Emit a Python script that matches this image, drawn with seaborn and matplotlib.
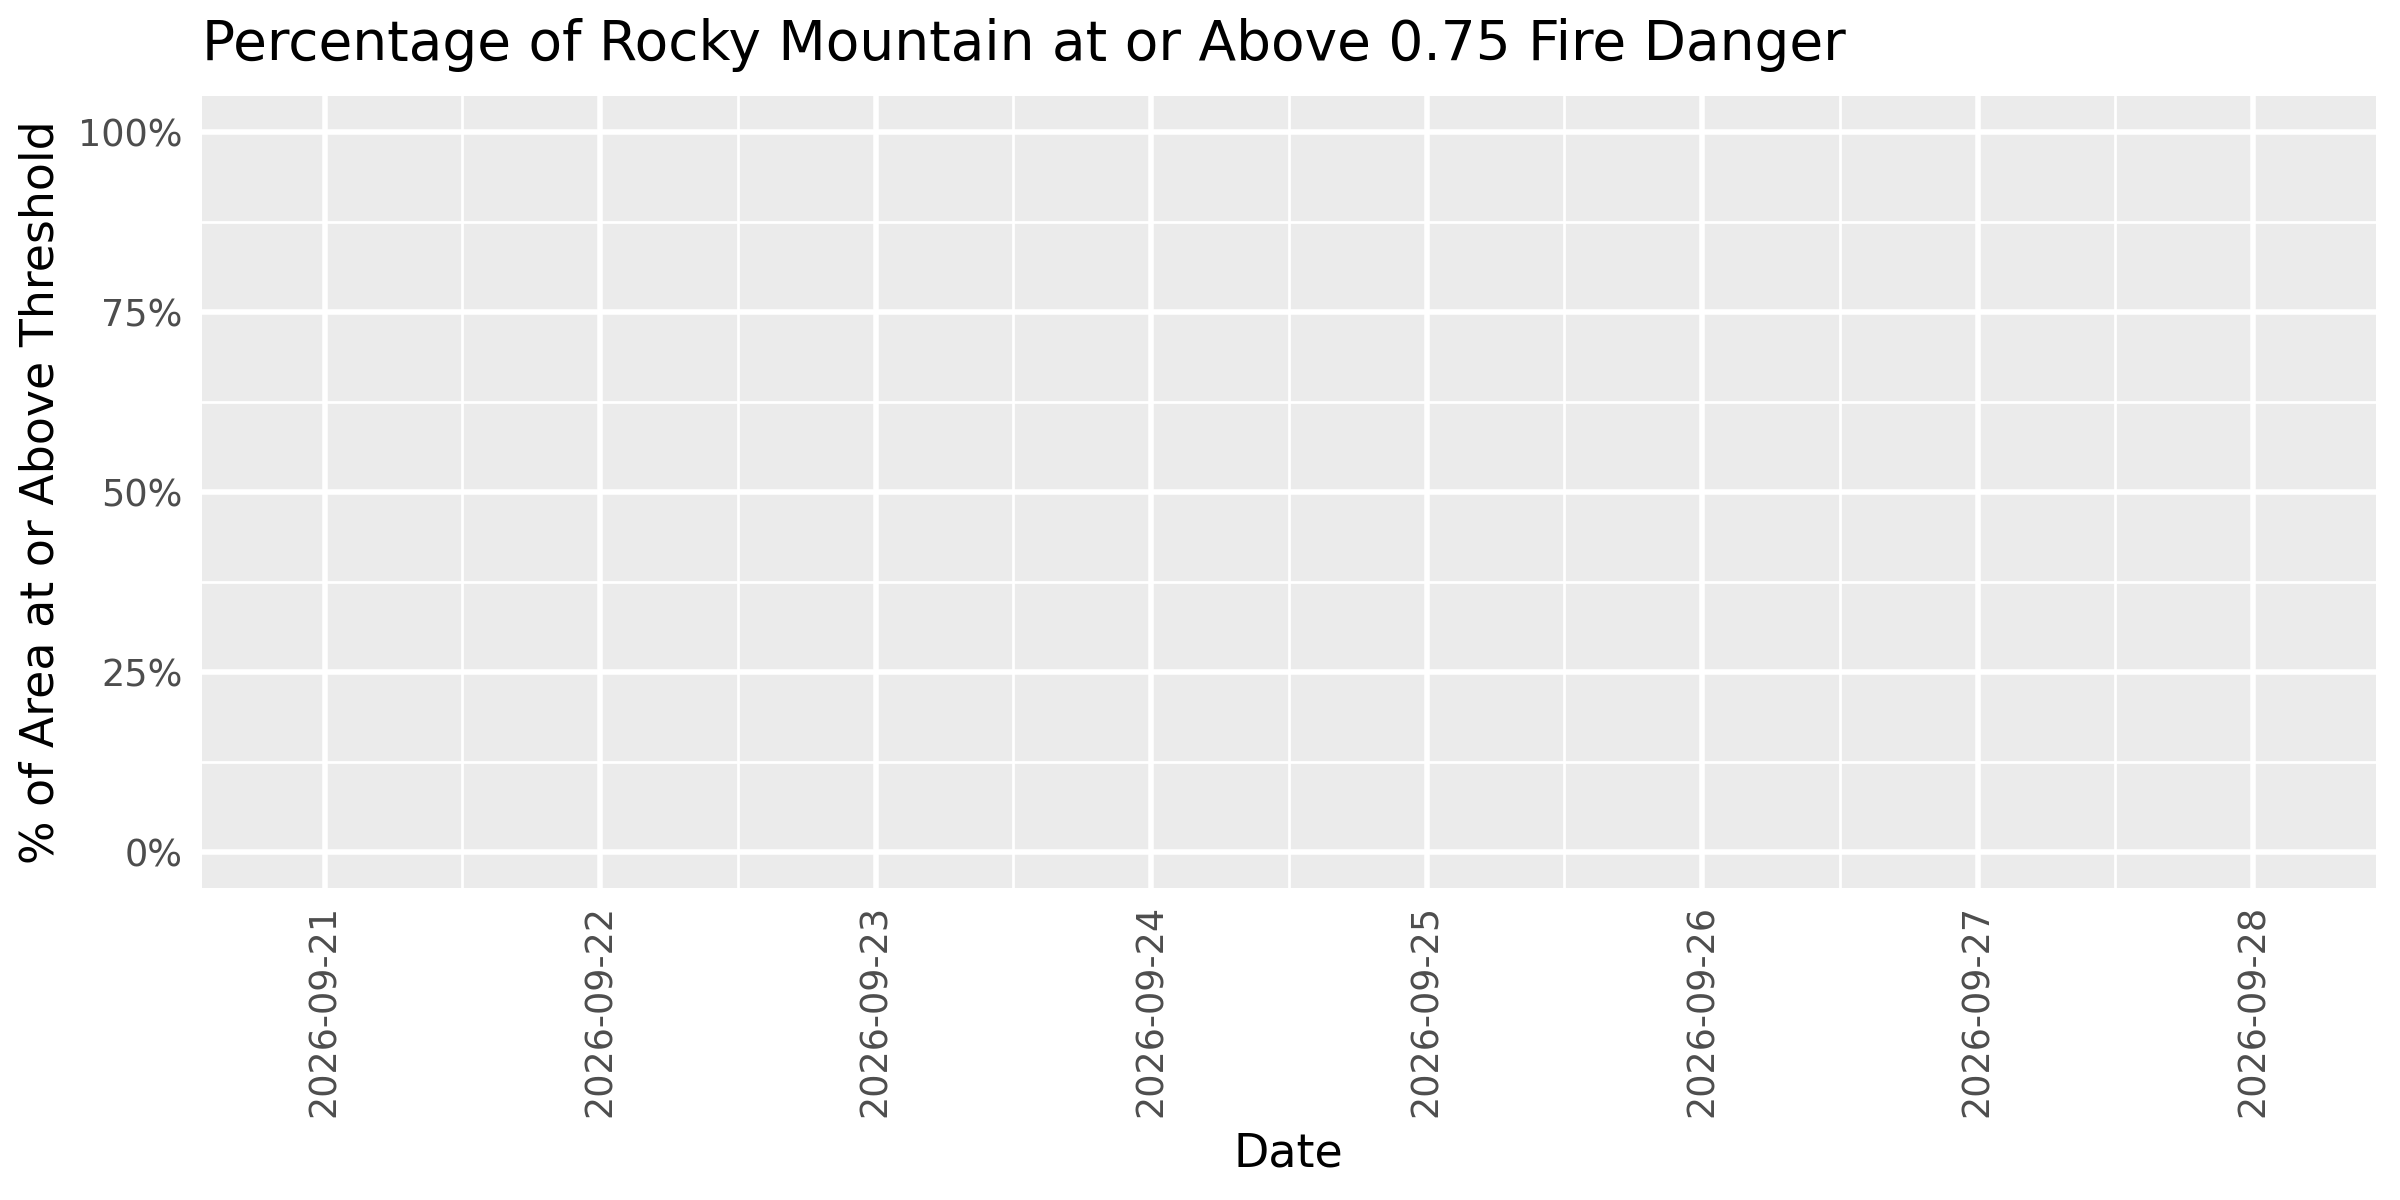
import numpy as np
import pandas as pd
import matplotlib
matplotlib.use("Agg")
import matplotlib.pyplot as plt
import matplotlib.dates as mdates
from matplotlib.ticker import PercentFormatter, FixedLocator
import seaborn as sns

# the reference chart has dates but no visible values
dates = ["2026-09-21", "2026-09-22", "2026-09-23", "2026-09-24",
         "2026-09-25", "2026-09-26", "2026-09-27", "2026-09-28"]
pct_above = [np.nan] * len(dates)
y_ticks = [0.0, 0.25, 0.5, 0.75, 1.0]

df = pd.DataFrame({"date": pd.to_datetime(dates), "pct": pct_above})

sns.set_theme(style="darkgrid", rc={
    "axes.facecolor": "#EBEBEB",
    "grid.color": "white",
})
plt.rcParams["font.family"] = ["DejaVu Sans"]

fig = plt.figure(figsize=(12, 6), dpi=200)
ax = fig.add_axes([0.0842, 0.260, 0.9898 - 0.0842, 0.9196 - 0.260])

sns.lineplot(data=df.dropna(), x="date", y="pct", ax=ax, color="black")

xnum = mdates.date2num(df["date"])
pad = 80 / 180
ax.set_xlim(xnum[0] - pad, xnum[-1] + pad)
ax.set_ylim(-0.05, 1.05)

ax.xaxis.set_major_locator(FixedLocator(xnum))
ax.xaxis.set_major_formatter(mdates.DateFormatter("%Y-%m-%d"))
ax.xaxis.set_minor_locator(FixedLocator(list(xnum[:-1] + 0.5)))
ax.yaxis.set_major_locator(FixedLocator(y_ticks))
ax.yaxis.set_minor_locator(FixedLocator([0.125, 0.375, 0.625, 0.875]))
ax.yaxis.set_major_formatter(PercentFormatter(xmax=1, decimals=0))

ax.grid(which="major", color="white", linewidth=2.0)
ax.grid(which="minor", color="white", linewidth=1.0)

for side in ax.spines.values():
    side.set_visible(False)

ax.tick_params(axis="both", which="major", length=4.1, width=1.6,
               color="#333333", labelcolor="#4D4D4D", labelsize=13.2, pad=3)
ax.tick_params(axis="x", which="major", pad=2)
ax.tick_params(axis="both", which="minor", length=0)
ax.tick_params(axis="x", which="major", labelrotation=90)

ax.set_title("Percentage of Rocky Mountain at or Above 0.75 Fire Danger",
             loc="left", fontsize=19.8, color="black", pad=13)
ax.set_xlabel("Date", fontsize=16.5, color="black", labelpad=5)
ax.set_ylabel("% of Area at or Above Threshold", fontsize=16.5,
              color="black", labelpad=5)

fig.savefig("out.png", dpi=200)
